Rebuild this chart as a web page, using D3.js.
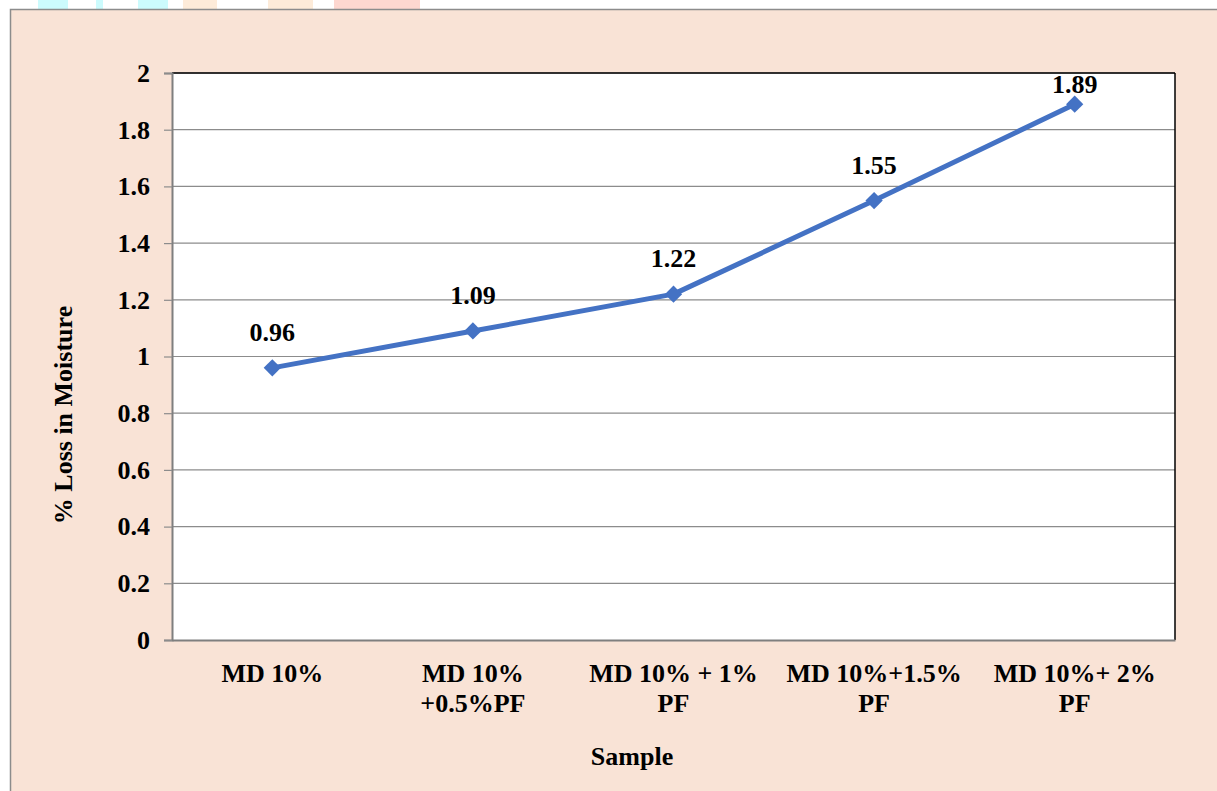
<!DOCTYPE html>
<html><head><meta charset="utf-8">
<script src="https://cdn.jsdelivr.net/npm/d3@7"></script>
<style>body{margin:0;background:#fff;}svg{display:block;}</style>
</head><body>
<svg id="c" width="1217" height="791"></svg>
<script>
const categories = [["MD 10%"], ["MD 10%", "+0.5%PF"], ["MD 10% + 1%", "PF"], ["MD 10%+1.5%", "PF"], ["MD 10%+ 2%", "PF"]];
const values = [0.96, 1.09, 1.22, 1.55, 1.89];
const yTicks = [0, 0.2, 0.4, 0.6, 0.8, 1, 1.2, 1.4, 1.6, 1.8, 2];
const yTickLabels = ["0", "0.2", "0.4", "0.6", "0.8", "1", "1.2", "1.4", "1.6", "1.8", "2"];
const yTitle = "% Loss in Moisture";
const xTitle = "Sample";

const svg = d3.select("#c");
const font = "'Liberation Serif','Times New Roman',serif";
const fs = 26;

// top watermark remnants
const deco = [[38,68,"#ccfbfd"],[96,103,"#ccfbfd"],[138,168,"#ccfbfd"],[183,217,"#fdebd9"],[268,313,"#fdebd9"],[334,420,"#fdd7d0"]];
deco.forEach(d => svg.append("rect").attr("x", d[0]).attr("y", 0).attr("width", d[1]-d[0]).attr("height", 9).attr("fill", d[2]));

// outer frame
svg.append("rect").attr("x", 10.5).attr("y", 9.5).attr("width", 1220).attr("height", 800)
  .attr("fill", "#f9e3d6").attr("stroke", "#8c8c8c").attr("stroke-width", 1.5);

const L = 172, R = 1175, T = 73, B = 640;
const x = d3.scaleBand().domain(d3.range(categories.length)).range([L, R]);
const y = d3.scaleLinear().domain([0, 2]).range([B, T]);

svg.append("rect").attr("x", L).attr("y", T).attr("width", R-L).attr("height", B-T).attr("fill", "#fff");

// gridlines
svg.append("g").selectAll("line").data(yTicks.slice(1)).join("line")
  .attr("x1", L).attr("x2", R).attr("y1", d => y(d)).attr("y2", d => y(d))
  .attr("stroke", "#8c8c8c").attr("stroke-width", 1.2);

// plot border top/right
svg.append("line").attr("x1", L).attr("x2", R).attr("y1", T).attr("y2", T).attr("stroke", "#000").attr("stroke-width", 1.5);
svg.append("line").attr("x1", R).attr("x2", R).attr("y1", T).attr("y2", B).attr("stroke", "#000").attr("stroke-width", 1.5);

// y axis
const yAxis = d3.axisLeft(y).tickValues(yTicks).tickFormat((d,i) => yTickLabels[i]).tickSize(8).tickPadding(14);
const ga = svg.append("g").attr("transform", `translate(${L},0)`).call(yAxis);
ga.select(".domain").attr("stroke", "#7f7f7f").attr("stroke-width", 2);
ga.selectAll(".tick line").attr("stroke", "#8c8c8c").attr("stroke-width", 1.2);
ga.selectAll(".tick text").attr("font-family", font).attr("font-weight", "bold").attr("font-size", fs).attr("fill", "#000");

// x axis line
const xAxis = d3.axisBottom(x).tickSize(0).tickFormat("");
const gx = svg.append("g").attr("transform", `translate(0,${B})`).call(xAxis);
gx.select(".domain").attr("stroke", "#7f7f7f").attr("stroke-width", 2);

// x labels
const xl = svg.append("g");
categories.forEach((lines, i) => {
  const t = xl.append("text").attr("x", x(i) + x.bandwidth()/2).attr("y", 682)
    .attr("text-anchor", "middle").attr("font-family", font).attr("font-weight", "bold").attr("font-size", fs);
  lines.forEach((s, j) => t.append("tspan").attr("x", x(i) + x.bandwidth()/2).attr("dy", j ? 30 : 0).text(s));
});

// line
const cx = i => x(i) + x.bandwidth()/2;
svg.append("path").datum(values)
  .attr("d", d3.line().x((d,i) => cx(i)).y(d => y(d)))
  .attr("fill", "none").attr("stroke", "#4472c4").attr("stroke-width", 5).attr("stroke-linejoin", "round");
svg.append("g").selectAll("path").data(values).join("path")
  .attr("d", d3.symbol(d3.symbolDiamond2, 190))
  .attr("transform", (d,i) => `translate(${cx(i)},${y(d)})`)
  .attr("fill", "#4472c4");

// data labels
svg.append("g").selectAll("text").data(values).join("text")
  .attr("x", (d,i) => cx(i)).attr("y", d => Math.max(y(d) - 27, T + 20))
  .attr("text-anchor", "middle").attr("font-family", font).attr("font-weight", "bold").attr("font-size", fs)
  .text(d => d.toFixed(2));

// axis titles
svg.append("text").attr("transform", "translate(72,415) rotate(-90)").attr("text-anchor", "middle")
  .attr("font-family", font).attr("font-weight", "bold").attr("font-size", fs).text(yTitle);
svg.append("text").attr("x", 632).attr("y", 765).attr("text-anchor", "middle")
  .attr("font-family", font).attr("font-weight", "bold").attr("font-size", fs).text(xTitle);
</script>
</body></html>
